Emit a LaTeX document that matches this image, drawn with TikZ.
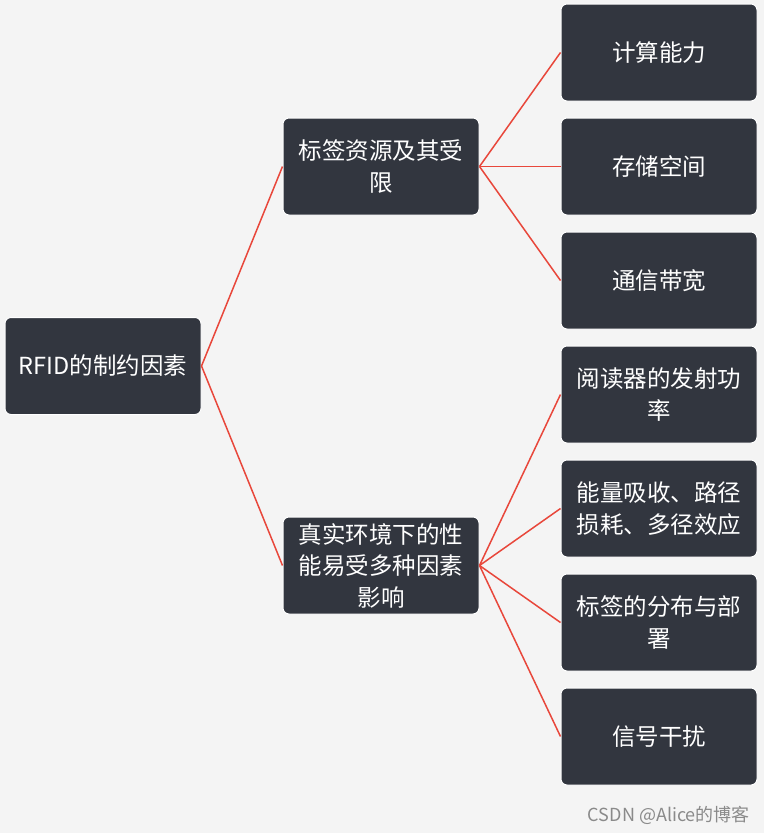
\documentclass[tikz,border=0pt]{standalone}
\usepackage{fontspec}
\setmainfont{Noto Sans CJK SC}
\definecolor{bg}{HTML}{F4F4F4}
\definecolor{boxfill}{HTML}{32363F}
\definecolor{linkred}{HTML}{E8473B}
\definecolor{wm}{HTML}{8A8A8A}
\begin{document}
\begin{tikzpicture}[x=1pt,y=-1pt,
  box/.style={draw=white,line width=1pt,fill=boxfill,rounded corners=6pt,
    minimum width=196pt,minimum height=97pt,text=white,align=center,
    font=\fontsize{23.5}{31.5}\selectfont,inner sep=0pt},
  link/.style={draw=linkred,line width=1.5pt}]
\fill[bg] (0,0) rectangle (764,833);
\useasboundingbox (0,0) rectangle (764,833);
\node[box] (root) at (103,366) {RFID的制约因素};
\node[box] (m1) at (381,166.5) {标签资源及其受\\限};
\node[box] (m2) at (381,565.5) {真实环境下的性\\能易受多种因素\\影响};
\node[box] (l1) at (659,52.5) {计算能力};
\node[box] (l2) at (659,166.5) {存储空间};
\node[box] (l3) at (659,280.5) {通信带宽};
\node[box] (l4) at (659,394.5) {阅读器的发射功\\率};
\node[box] (l5) at (659,508.5) {能量吸收、路径\\损耗、多径效应};
\node[box] (l6) at (659,622.5) {标签的分布与部\\署};
\node[box] (l7) at (659,736.5) {信号干扰};
\draw[link] (root.east) -- (m1.west);
\draw[link] (root.east) -- (m2.west);
\foreach \n in {l1,l2,l3} \draw[link] (m1.east) -- (\n.west);
\foreach \n in {l4,l5,l6,l7} \draw[link] (m2.east) -- (\n.west);
\node[anchor=east,text=wm,font=\fontsize{18}{20}\selectfont,inner sep=0pt] (wmk) at (750,815) {CSDN @Alice的博客};
\end{tikzpicture}
\end{document}
